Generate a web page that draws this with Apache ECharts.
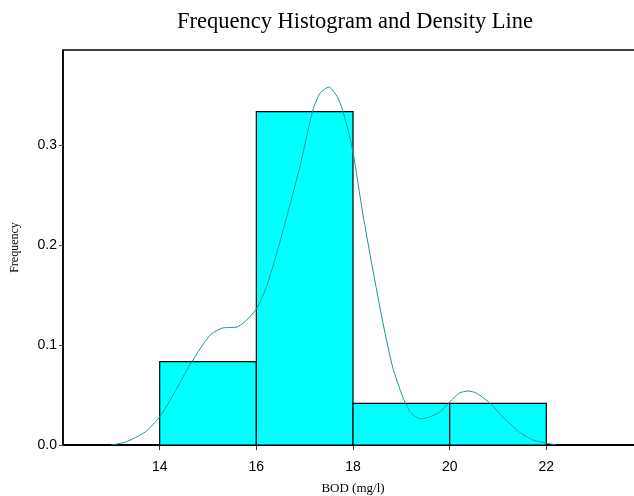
<!DOCTYPE html>
<html>
<head>
<meta charset="utf-8">
<script src="https://cdn.jsdelivr.net/npm/echarts@6/dist/echarts.min.js"></script>
<style>
  html, body { margin: 0; padding: 0; background: #fff; }
  #main { width: 634px; height: 496px; }
</style>
</head>
<body>
<div id="main"></div>
<script>
// histogram bins (BOD mg/l) and their density heights
var binStart = [14, 16, 18, 20]
var binEnd = [16, 18, 20, 22]
var binFreq = [0.0833, 0.3333, 0.0417, 0.0417]

// density line
var densX = [13.0, 13.3, 13.7, 14.0, 14.3, 14.6, 14.86, 15.07, 15.3, 15.6, 15.78, 16.0, 16.2, 16.4, 16.65, 16.9, 17.17, 17.32, 17.5, 17.7, 17.86, 18.0, 18.2, 18.4, 18.62, 18.82, 19.03, 19.2, 19.4, 19.58, 19.8, 20.0, 20.2, 20.38, 20.55, 20.83, 21.1, 21.44, 21.72, 22.0, 22.2]
var densY = [0.0, 0.003, 0.013, 0.028, 0.052, 0.078, 0.098, 0.111, 0.117, 0.118, 0.124, 0.136, 0.157, 0.188, 0.232, 0.278, 0.335, 0.352, 0.358, 0.346, 0.322, 0.293, 0.232, 0.178, 0.122, 0.078, 0.048, 0.032, 0.026, 0.028, 0.033, 0.043, 0.052, 0.054, 0.052, 0.042, 0.028, 0.013, 0.005, 0.002, 0.0]

var xTicks = [14, 16, 18, 20, 22]
var yTicks = [0, 0.1, 0.2, 0.3]

var chart = echarts.init(document.getElementById('main'))

var bars = binStart.map(function (s, i) { return [s, binEnd[i], binFreq[i]] })
var dens = densX.map(function (x, i) { return [x, densY[i]] })

chart.setOption({
  animation: false,
  title: {
    text: 'Frequency Histogram and Density Line',
    left: 350,
    textAlign: 'center',
    top: 6,
    textStyle: { fontFamily: 'Liberation Serif', fontWeight: 'normal', fontSize: 22.5, color: '#000' }
  },
  grid: {
    left: 63,
    top: 50,
    width: 580,
    bottom: 51,
    outerBoundsMode: 'none',
    containLabel: false,
    show: true,
    borderColor: '#000',
    borderWidth: 1.5,
    backgroundColor: 'transparent'
  },
  xAxis: {
    type: 'value',
    min: 12,
    max: 24,
    name: 'BOD (mg/l)',
    nameLocation: 'middle',
    nameGap: 37,
    nameTextStyle: { fontFamily: 'Liberation Serif', fontSize: 13, color: '#000' },
    axisLine: { show: true, onZero: false, lineStyle: { color: '#000', width: 2 } },
    axisTick: { show: true, length: 5, customValues: xTicks, lineStyle: { color: '#333' } },
    axisLabel: {
      customValues: xTicks,
      margin: 15,
      fontFamily: 'Liberation Sans',
      fontSize: 14,
      color: '#000'
    },
    splitLine: { show: false }
  },
  yAxis: {
    type: 'value',
    min: 0,
    max: 0.395,
    name: 'Frequency',
    nameLocation: 'middle',
    nameGap: 42,
    nameTextStyle: { fontFamily: 'Liberation Serif', fontSize: 12, color: '#000' },
    axisLine: { show: true, lineStyle: { color: '#000', width: 1.5 } },
    axisTick: { show: true, length: 4, customValues: yTicks, lineStyle: { color: '#555' } },
    axisLabel: {
      customValues: yTicks,
      margin: 6,
      fontFamily: 'Liberation Sans',
      fontSize: 14,
      color: '#000',
      formatter: function (v) { return v.toFixed(1) }
    },
    splitLine: { show: false }
  },
  series: [
    {
      type: 'custom',
      data: bars,
      encode: { x: [0, 1], y: 2 },
      renderItem: function (params, api) {
        var p0 = api.coord([api.value(0), 0])
        var p1 = api.coord([api.value(1), api.value(2)])
        return {
          type: 'rect',
          shape: { x: p0[0], y: p1[1], width: p1[0] - p0[0], height: p0[1] - p1[1] },
          style: { fill: '#00ffff', stroke: '#000', lineWidth: 1.2 }
        }
      },
      z: 2
    },
    {
      type: 'line',
      data: dens,
      showSymbol: false,
      smooth: 0.2,
      lineStyle: { color: '#1f9494', width: 1 },
      z: 3
    }
  ]
})
</script>
</body>
</html>
